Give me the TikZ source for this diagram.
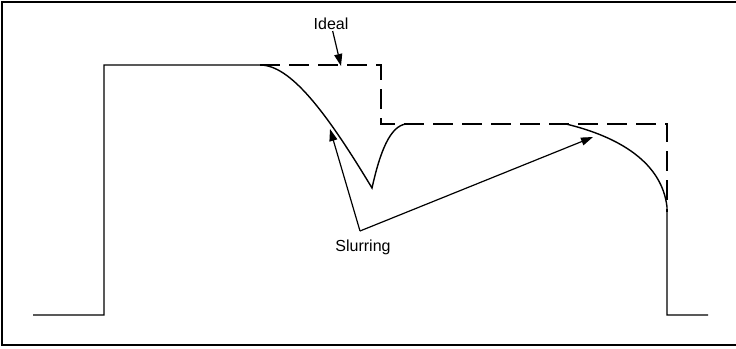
\documentclass[tikz,border=0pt]{standalone}
\usepackage{fontspec}
\setmainfont{Liberation Sans}
\usetikzlibrary{arrows.meta}

\begin{document}
\begin{tikzpicture}[
  x=1pt, y=-1pt,
  frame/.style={draw=black, line width=2pt},
  wave/.style={draw=black, line width=1.4pt, line join=miter},
  ideal/.style={draw=black, line width=1.4pt, dash pattern=on 20pt off 9pt},
  pointer/.style={draw=black, line width=1.2pt,
                  -{Triangle[length=12pt, width=8pt]}},
  lbl/.style={font=\fontsize{16}{19}\selectfont, inner sep=1pt},
]
  \useasboundingbox (0,0) rectangle (736,348);
  \draw[frame] (745,2) -- (2,2) -- (2,345) -- (745,345);
  % ideal response
  \draw[ideal] (260,65) -- (381,65) -- (381,124) -- (667,124) -- (667,212);
  % actual response
  \draw[wave] (33,315) -- (104,315) -- (104,65) -- (260,65)
    .. controls (290,65) and (325,110) .. (372,188)
    .. controls (380,152) and (390,126) .. (406,124);
  \draw[wave] (566,124) .. controls (620,137) and (662,163) .. (667,207)
    -- (667,315) -- (708,315);
  % labels
  \node[lbl] (idl) at (331,24) {Ideal};
  \node[lbl] (slur) at (363,247) {Slurring};
  \coordinate (idltip) at (341,66);
  \coordinate (fork) at (360,231);
  \coordinate (slurA) at (330,129);
  \coordinate (slurB) at (593,137);
  \draw[pointer] (idl) -- (idltip);
  \draw[pointer] (fork) -- (slurA);
  \draw[pointer] (fork) -- (slurB);
\end{tikzpicture}
\end{document}
